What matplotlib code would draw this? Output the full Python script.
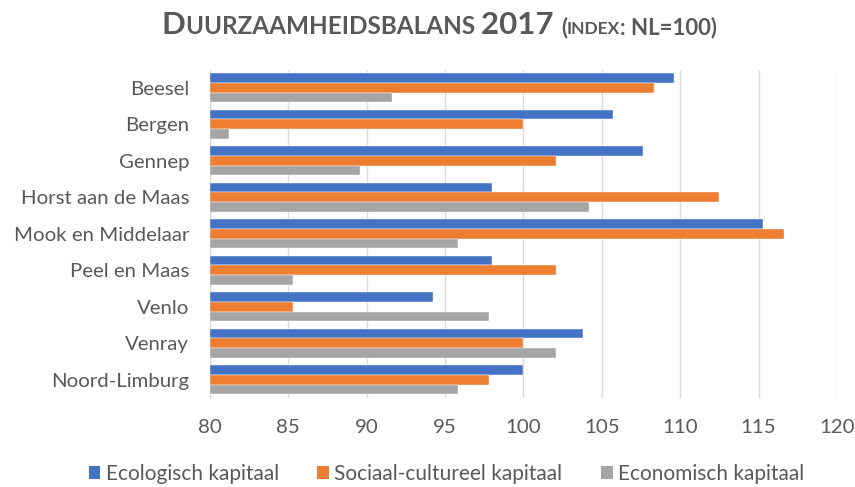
import numpy as np
import matplotlib
matplotlib.use("Agg")
import matplotlib.pyplot as plt
from matplotlib.patches import Patch

# data
gemeenten = ["Beesel", "Bergen", "Gennep", "Horst aan de Maas", "Mook en Middelaar",
             "Peel en Maas", "Venlo", "Venray", "Noord-Limburg"]
ecologisch = [109.6, 105.7, 107.6, 98.0, 115.3, 98.0, 94.2, 103.8, 100.0]
sociaal = [108.3, 100.0, 102.1, 112.5, 116.6, 102.1, 85.3, 100.0, 97.8]
economisch = [91.6, 81.2, 89.6, 104.2, 95.8, 85.3, 97.8, 102.1, 95.8]
series_names = ["Ecologisch kapitaal", "Sociaal-cultureel kapitaal", "Economisch kapitaal"]
xticks = [80, 85, 90, 95, 100, 105, 110, 115, 120]

colors = ["#4472C4", "#ED7D31", "#A5A5A5"]
txt_col = "#595959"
plt.rcParams['font.family'] = ['Lato', 'DejaVu Sans']

fig = plt.figure(figsize=(8.55, 4.87), dpi=100)
ax = fig.add_axes([0.2456, 0.183, 0.7333, 0.674])

y = np.arange(len(gemeenten))
h = 0.8 / 3
for i, vals in enumerate([ecologisch, sociaal, economisch]):
    vals = np.array(vals)
    ax.barh(y + (i - 1) * h, vals - 80, height=h, left=80, color=colors[i],
            edgecolor="white", linewidth=0.3, zorder=3)

ax.set_xlim(80, 120)
ax.set_ylim(len(gemeenten) - 0.5, -0.5)
ax.set_xticks(xticks)
ax.set_yticks(y)
ax.set_yticklabels(gemeenten)
ax.tick_params(axis="both", length=0, colors=txt_col, labelsize=14.7)
ax.tick_params(axis="x", pad=15)
ax.tick_params(axis="y", pad=15)
ax.grid(axis="x", color="#D9D9D9", linewidth=1, zorder=0)
for s in ["top", "right", "bottom"]:
    ax.spines[s].set_visible(False)
ax.spines["left"].set_color("#D9D9D9")

handles = [Patch(facecolor=c) for c in colors]
fig.legend(handles, series_names, loc="center", bbox_to_anchor=(0.522, 0.027), ncol=3,
           frameon=False, fontsize=15, labelcolor=txt_col, handlelength=0.56,
           handleheight=0.56, columnspacing=1.85, handletextpad=0.25)

# title in small caps style, built from pieces
pieces = [("D", 22.5), ("UURZAAMHEIDSBALANS ", 17.5), ("2017 ", 22.5),
          ("(", 16), ("INDEX", 12.5), (": NL=100)", 16)]
renderer = fig.canvas.get_renderer()
texts = []
x = 0
for s, size in pieces:
    t = fig.text(x, 0.93, s, fontsize=size, fontweight="bold", color=txt_col,
                 ha="left", va="baseline")
    bb = t.get_window_extent(renderer)
    x += bb.width / fig.bbox.width
    texts.append(t)
start = 0.514 - x / 2
pos = start
for t in texts:
    w = t.get_window_extent(renderer).width / fig.bbox.width
    t.set_x(pos)
    pos += w

fig.savefig("out.png", dpi=100)
